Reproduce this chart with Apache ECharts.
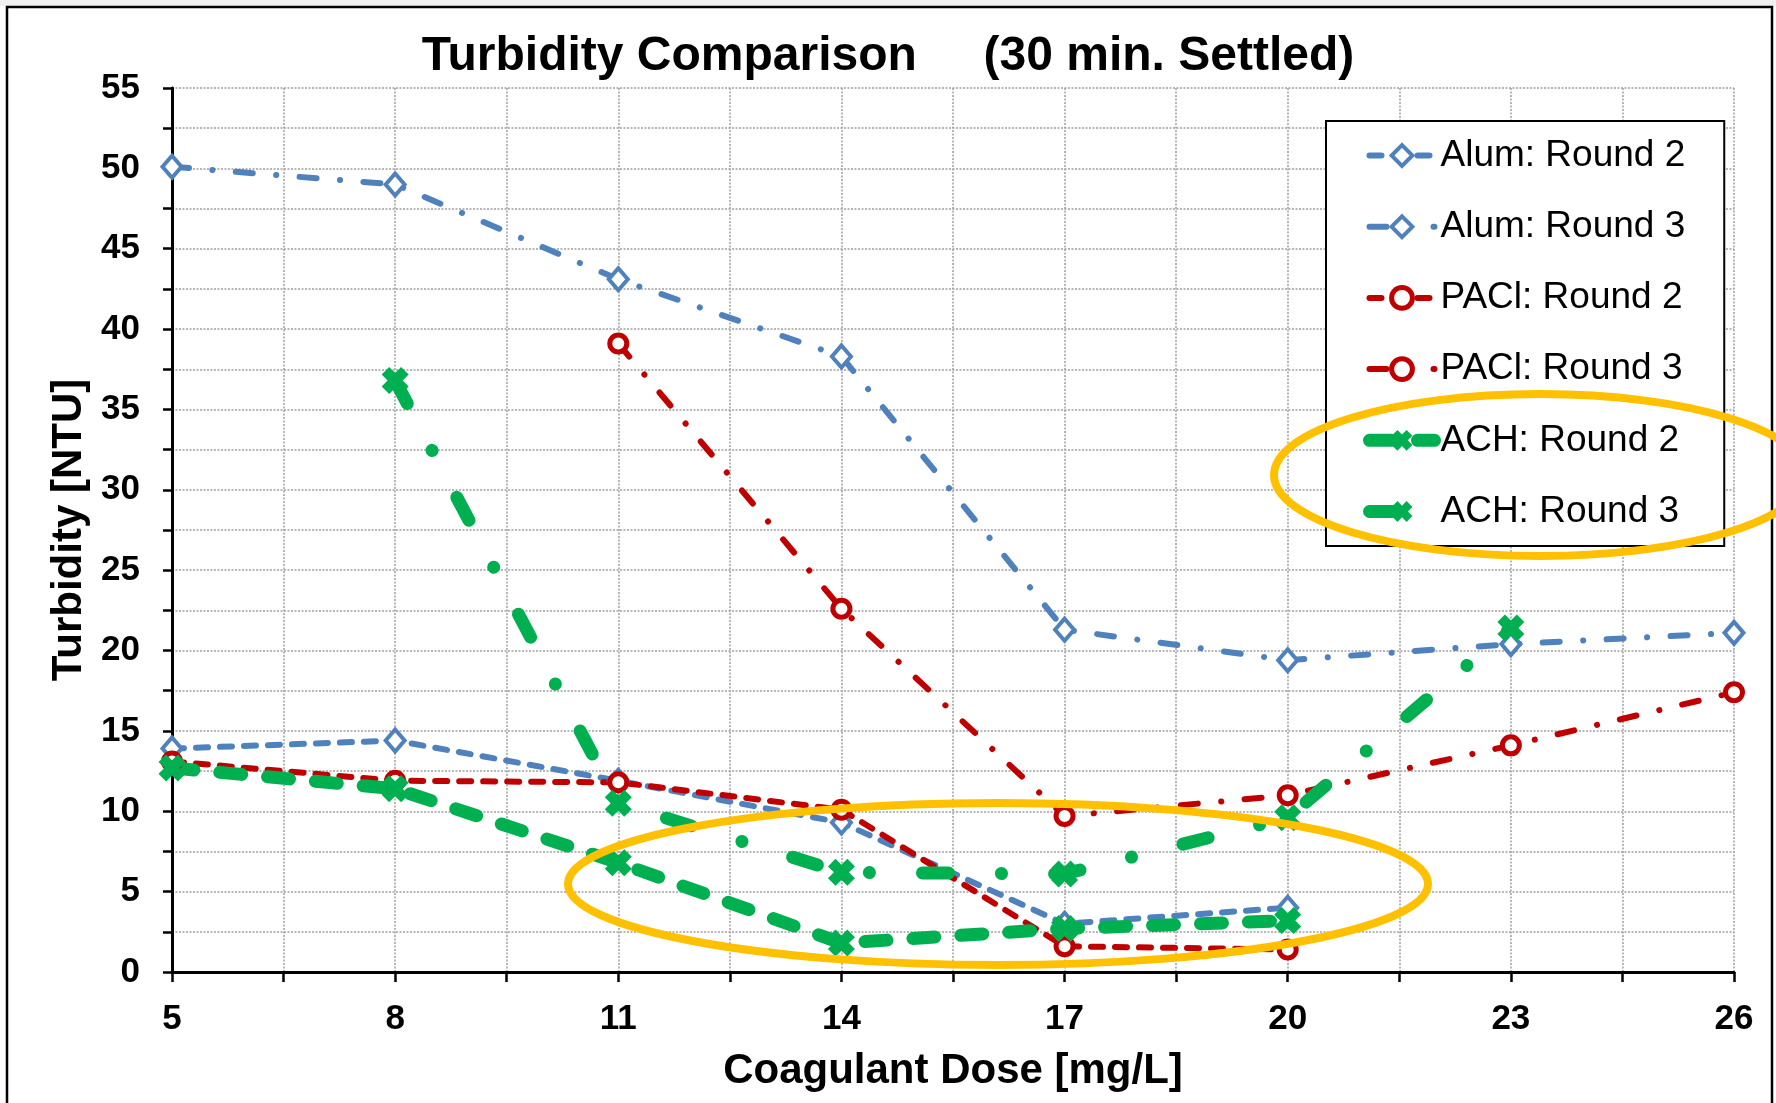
<!DOCTYPE html>
<html><head><meta charset="utf-8">
<script src="https://cdn.jsdelivr.net/npm/echarts@6/dist/echarts.min.js"></script>
<style>html,body{margin:0;padding:0;background:#fff}#c{width:1776px;height:1103px}</style>
</head><body><div id="c"></div>
<script>
// ---- data ----
const doses = [5, 8, 11, 14, 17, 20, 23, 26];
const alumRound2 = [13.9, 14.4, 11.9, 9.3, 3.0, 4.0, null, null];
const alumRound3 = [50.1, 49.0, 43.1, 38.3, 21.3, 19.4, 20.4, 21.1];
const paclRound2 = [13.1, 11.9, 11.8, 10.1, 1.6, 1.4, null, null];
const paclRound3 = [null, null, 39.1, 22.6, 9.7, 11.0, 14.1, 17.4];
const achRound2 = [12.7, 11.4, 6.8, 1.8, 2.7, 3.2, null, null];
const achRound3 = [null, 36.8, 10.5, 6.2, 6.1, 9.6, 21.4, null];
const seriesNames = ['Alum: Round 2', 'Alum: Round 3', 'PACl: Round 2', 'PACl: Round 3', 'ACH: Round 2', 'ACH: Round 3'];
const xTickLabels = [5, 8, 11, 14, 17, 20, 23, 26];
const yTickLabels = [0, 5, 10, 15, 20, 25, 30, 35, 40, 45, 50, 55];

const FONT = 'Liberation Sans, Arial, sans-serif';
const BLUE = '#4F81BD', RED = '#C00000', GREEN = '#00B050', ORANGE = '#FFC000';
const X_SYMBOL = 'path://M2.8,0L5,2.2L7.2,0L10,2.8L7.8,5L10,7.2L7.2,10L5,7.8L2.8,10L0,7.2L2.2,5L0,2.8Z';

function pairs(vals) {
  const out = [];
  doses.forEach((d, i) => { if (vals[i] !== null) out.push([d, vals[i]]); });
  return out;
}

const DASH = [12, 12];
const DASHDOT = [17, 23.5, 0.1, 23.4];
const LONGDASH = [22, 26];
const LONGDASHDOT = [26, 53, 0.1, 53];

const styles = [
  { symbol: 'diamond', symbolSize: [19, 22], itemStyle: { color: '#fff', borderColor: BLUE, borderWidth: 4 }, lineStyle: { color: BLUE, width: 6, type: DASH, cap: 'round' } },
  { symbol: 'diamond', symbolSize: [19, 22], itemStyle: { color: '#fff', borderColor: BLUE, borderWidth: 4 }, lineStyle: { color: BLUE, width: 6, type: DASHDOT, cap: 'round' } },
  { symbol: 'circle', symbolSize: 17, itemStyle: { color: '#fff', borderColor: RED, borderWidth: 5 }, lineStyle: { color: RED, width: 6, type: DASH, cap: 'round' } },
  { symbol: 'circle', symbolSize: 17, itemStyle: { color: '#fff', borderColor: RED, borderWidth: 5 }, lineStyle: { color: RED, width: 6, type: DASHDOT, cap: 'round' } },
  { symbol: X_SYMBOL, symbolSize: 27, itemStyle: { color: GREEN, borderWidth: 0 }, lineStyle: { color: GREEN, width: 13, type: LONGDASH, cap: 'round' } },
  { symbol: X_SYMBOL, symbolSize: 27, itemStyle: { color: GREEN, borderWidth: 0 }, lineStyle: { color: GREEN, width: 13, type: LONGDASHDOT, cap: 'round' } }
];
const seriesData = [alumRound2, alumRound3, paclRound2, paclRound3, achRound2, achRound3];

const series = seriesNames.map((name, i) => Object.assign({
  name, type: 'line', data: pairs(seriesData[i]), emphasis: { disabled: true }
}, styles[i]));

const legendData = seriesNames.map((name, i) => ({
  name,
  itemStyle: Object.assign({}, styles[i].itemStyle),
  lineStyle: Object.assign({}, styles[i].lineStyle)
}));

const chart = echarts.init(document.getElementById('c'), null, { renderer: 'canvas' });
chart.setOption({
  animation: false,
  backgroundColor: '#fff',
  title: {
    text: 'Turbidity Comparison     (30 min. Settled)',
    left: 'center', top: 33, padding: 0,
    textStyle: { fontFamily: FONT, fontSize: 48, fontWeight: 'bold', color: '#000' }
  },
  grid: { left: 172, right: 42, top: 88, bottom: 131, containLabel: false },
  legend: {
    orient: 'vertical', left: 1326, top: 121,
    padding: [16, 39, 16, 37], itemGap: 34.2, itemWidth: 65, itemHeight: 26,
    backgroundColor: '#fff', borderColor: '#000', borderWidth: 2,
    lineStyle: { width: 'inherit' },
    itemStyle: { borderWidth: 'inherit' },
    textStyle: { fontFamily: FONT, fontSize: 37, color: '#000', padding: [0, 0, 0, 1] },
    data: legendData
  },
  xAxis: {
    type: 'value', min: 5, max: 26, interval: 1.5,
    name: 'Coagulant Dose [mg/L]', nameLocation: 'middle', nameGap: 78,
    nameTextStyle: { fontFamily: FONT, fontSize: 42, fontWeight: 'bold', color: '#000' },
    axisLine: { show: true, lineStyle: { color: '#000', width: 3 } },
    axisTick: { show: true, inside: false, length: 10, lineStyle: { color: '#000', width: 2.5 } },
    axisLabel: {
      margin: 30, fontFamily: FONT, fontSize: 35, fontWeight: 'bold', color: '#000',
      formatter: v => xTickLabels.some(t => Math.abs(t - v) < 1e-6) ? String(Math.round(v)) : ''
    },
    splitLine: { show: true, lineStyle: { color: '#a0a0a0', width: 1.5, type: [2, 1.5] } }
  },
  yAxis: {
    type: 'value', min: 0, max: 55, interval: 2.5,
    name: 'Turbidity [NTU]', nameLocation: 'middle', nameGap: 82,
    nameTextStyle: { fontFamily: FONT, fontSize: 42, fontWeight: 'bold', color: '#000' },
    axisLine: { show: true, lineStyle: { color: '#000', width: 3 } },
    axisTick: { show: true, inside: false, length: 9, lineStyle: { color: '#000', width: 2.5 } },
    axisLabel: {
      margin: 32, fontFamily: FONT, fontSize: 35, fontWeight: 'bold', color: '#000',
      formatter: v => yTickLabels.some(t => Math.abs(t - v) < 1e-6) ? String(Math.round(v)) : ''
    },
    splitLine: { show: true, lineStyle: { color: '#a0a0a0', width: 1.5, type: [2, 1.5] } }
  },
  series,
  graphic: [
    { type: 'rect', z: 90, silent: true, shape: { x: 0, y: 0, width: 1776, height: 6 }, style: { fill: '#f0f0f0' } },
    { type: 'rect', z: 90, silent: true, shape: { x: 7, y: 7, width: 1765, height: 1110 }, style: { fill: 'none', stroke: '#000', lineWidth: 2.5 } },
    { type: 'ellipse', z: 100, silent: true, shape: { cx: 1540, cy: 475, rx: 266, ry: 81 }, style: { fill: 'none', stroke: ORANGE, lineWidth: 8 } },
    { type: 'ellipse', z: 100, silent: true, shape: { cx: 998, cy: 884, rx: 430, ry: 81 }, style: { fill: 'none', stroke: ORANGE, lineWidth: 8 } }
  ]
});
</script>
</body></html>
